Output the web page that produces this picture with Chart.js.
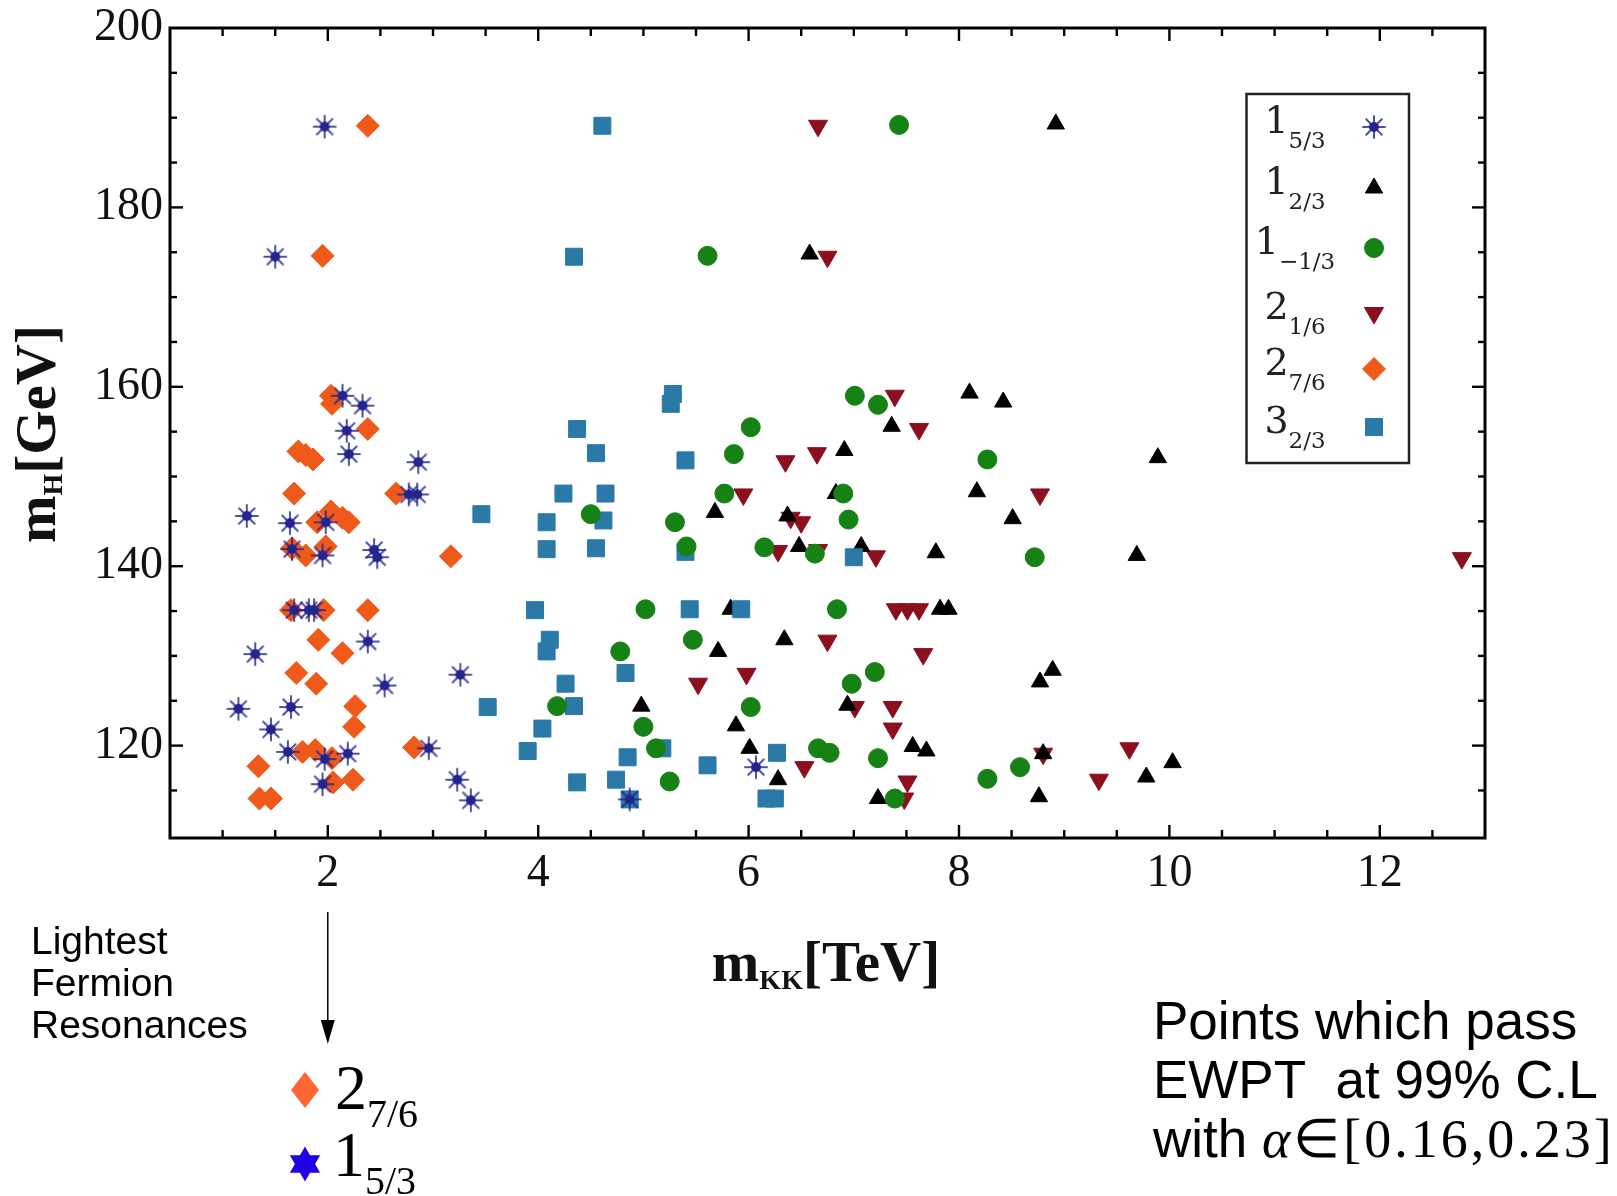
<!DOCTYPE html>
<html lang="en">
<head>
<meta charset="UTF-8">
<title>m_H vs m_KK – lightest fermion resonances</title>
<script src="https://cdn.jsdelivr.net/npm/chart.js"></script>
<style>
html,body{margin:0;padding:0;width:1617px;height:1196px;overflow:hidden;background:#fff;}
.wrap{position:absolute;left:0;top:0;width:1617px;height:1196px;}
.note{position:absolute;color:#000;white-space:nowrap;}
.sans{font-family:"Liberation Sans",Arial,sans-serif;}
.serif{font-family:"Liberation Serif","Times New Roman",serif;}
#lightest{left:31px;top:920px;font-size:39px;line-height:42px;}
#passText{left:1153px;top:991px;font-size:53px;line-height:59px;}
#passText .math{font-family:"Liberation Serif",serif;font-size:54px;letter-spacing:3px;line-height:59px;}
.key{font-size:64px;line-height:64px;}
.key .sub{position:relative;top:18px;font-size:40px;}
#key27{left:335px;top:1056px;}
#key153{left:333px;top:1123px;}
</style>
</head>
<body>
<div class="wrap"><canvas id="plot"></canvas></div>

<div class="note sans" id="lightest">Lightest<br>Fermion<br>Resonances</div>
<div class="note serif key" id="key27">2<span class="sub">7/6</span></div>
<div class="note serif key" id="key153">1<span class="sub">5/3</span></div>
<div class="note sans" id="passText">Points which pass<br>EWPT&nbsp; at 99% C.L<br>with <span class="math"><i>α</i>∈[0.16,0.23]</span></div>

<script>
Chart.defaults.font.family='"Liberation Serif","Times New Roman",serif';
Chart.defaults.animation=false;

/* ── axes ───────────────────────────────────────────── */
const X_TICKS=[2,4,6,8,10,12];
const Y_TICKS=[120,140,160,180,200];
const X_MIN=0.5,X_MAX=13,Y_MIN=109.7,Y_MAX=200;

/* ── data: [m_KK (TeV), m_H (GeV)] ─────────────────── */
const P_1_53=[[1.97,189.0],[1.50,174.5],[2.14,159.0],[2.33,157.9],[2.18,155.1],[2.20,152.5],[2.86,151.6],
  [2.77,148.0],[2.85,148.0],[1.23,145.6],[1.64,144.8],[1.98,144.9],[1.66,141.9],[1.95,141.2],[2.44,141.8],
  [2.47,141.0],[1.68,135.1],[1.82,135.1],[1.87,135.1],[2.38,131.6],[1.31,130.2],[3.26,127.9],[2.54,126.7],
  [1.15,124.1],[1.65,124.3],[1.46,121.8],[1.62,119.3],[1.97,118.5],[2.19,119.1],[2.96,119.7],[1.95,115.7],
  [3.23,116.2],[3.36,113.9],[6.07,117.6],[4.87,114.0]];
const P_1_23=[[8.92,189.3],[6.58,174.8],[8.10,159.3],[8.42,158.3],[7.36,155.6],[6.91,152.9],[9.89,152.1],
  [8.17,148.3],[6.83,148.1],[5.68,146.0],[6.37,145.6],[8.51,145.3],[6.48,142.2],[7.07,142.2],[7.78,141.5],
  [9.69,141.2],[5.83,135.2],[7.82,135.2],[7.90,135.2],[6.34,131.8],[5.71,130.5],[8.89,128.4],[8.77,127.1],
  [4.98,124.4],[6.94,124.5],[5.88,122.2],[6.01,119.7],[7.56,119.9],[7.69,119.4],[8.80,119.1],[6.28,116.2],
  [7.23,114.1],[8.76,114.3],[9.78,116.5],[10.03,118.1]];
const P_1_M13=[[7.43,189.2],[5.61,174.6],[7.01,159.0],[7.23,158.0],[6.02,155.5],[5.86,152.5],[8.27,151.9],
  [5.77,148.1],[6.90,148.1],[4.50,145.8],[5.30,144.9],[6.95,145.2],[5.41,142.2],[6.15,142.1],[6.63,141.4],
  [8.72,141.0],[5.02,135.2],[6.84,135.2],[5.47,131.8],[4.78,130.5],[7.20,128.2],[6.98,126.9],[4.18,124.4],
  [6.02,124.3],[5.00,122.1],[5.12,119.7],[6.66,119.7],[6.77,119.2],[7.23,118.6],[5.25,116.0],[7.39,114.1],
  [8.27,116.3],[8.58,117.6]];
const P_2_16=[[6.66,189.1],[6.75,174.5],[7.39,159.0],[7.62,155.3],[6.35,151.7],[6.65,152.6],[5.95,148.0],
  [8.77,148.0],[6.40,145.4],[6.50,144.9],[6.28,141.7],[6.66,141.8],[7.21,141.1],[12.78,140.9],[7.40,135.2],
  [7.51,135.2],[7.62,135.2],[6.75,131.7],[7.66,130.2],[5.98,128.0],[5.52,126.9],[7.01,124.3],[7.37,124.3],
  [7.37,121.9],[6.53,117.6],[7.51,116.0],[7.48,114.1],[8.80,119.1],[9.62,119.7],[9.33,116.2]];
const P_2_76=[[2.38,189.1],[1.95,174.6],[2.03,159.0],[2.04,158.1],[2.38,155.3],[1.72,152.8],[1.79,152.4],
  [1.86,151.9],[1.68,148.1],[2.65,148.1],[1.90,144.9],[2.03,146.1],[2.14,145.4],[2.20,144.9],[1.66,142.0],
  [1.79,141.2],[1.98,142.2],[3.17,141.1],[1.65,135.1],[1.96,135.1],[2.38,135.1],[1.91,131.8],[2.14,130.3],
  [1.70,128.1],[1.89,126.9],[2.26,124.4],[2.25,122.1],[1.76,119.3],[1.88,119.5],[2.04,118.6],[2.82,119.8],
  [1.34,117.7],[2.05,115.9],[2.24,116.2],[1.35,114.1],[1.46,114.1]];
const P_3_23=[[4.61,189.1],[4.34,174.5],[5.28,159.2],[5.26,158.1],[4.37,155.3],[4.55,152.6],[5.40,151.8],
  [4.24,148.1],[4.64,148.1],[3.46,145.8],[4.08,144.9],[4.62,145.1],[4.08,141.9],[4.55,142.0],[5.40,141.6],
  [7.00,141.0],[3.97,135.1],[5.44,135.2],[5.93,135.2],[4.11,131.8],[4.08,130.5],[4.83,128.1],[4.26,126.9],
  [3.52,124.3],[4.34,124.4],[4.04,121.9],[3.90,119.4],[5.18,119.7],[4.85,118.7],[5.61,117.8],[6.27,119.2],
  [4.37,115.9],[4.74,116.2],[4.87,114.0],[6.17,114.1],[6.25,114.1]];

/* legend text: main number + subscript */
const LEG_MAIN=['1','1','1','2','2','3'];
const LEG_SUB=['5/3','2/3','\u22121/3','1/6','7/6','2/3'];
const LEG_Y=[127,188,248,313,369,427];

/* ── marker helpers ─────────────────────────────────── */
function starImg(col){
  const c=document.createElement('canvas');c.width=c.height=26;
  const g=c.getContext('2d');
  g.strokeStyle=col;g.globalAlpha=0.8;g.lineWidth=2;g.lineCap='round';
  for(let i=0;i<8;i++){
    const a=i*Math.PI/4;
    g.beginPath();g.moveTo(13,13);g.lineTo(13+11*Math.cos(a),13+11*Math.sin(a));g.stroke();
  }
  g.globalAlpha=1;g.fillStyle=col;
  g.beginPath();g.arc(13,13,5,0,2*Math.PI);g.fill();
  return c;
}
const mk=(pts,style,r,col,order,rot)=>({
  data:pts.map(p=>({x:p[0],y:p[1]})),
  pointStyle:style,pointRadius:r,pointRotation:rot||0,
  backgroundColor:col,borderColor:col,pointBorderWidth:1,order
});

const datasets=[
  mk(P_1_53,starImg('#24248f'),11,'#24248f',1),
  mk(P_1_23,'triangle',10,'#000000',5),
  mk(P_1_M13,'circle',9.5,'#168216',2),
  mk(P_2_16,'triangle',11,'#8c0f1e',6,180),
  mk(P_2_76,'rectRot',11.5,'#ef5a1a',4),
  mk(P_3_23,'rect',12,'#2a79a6',3)
];

/* ── decorations: frame, inward ticks, titles, legend, arrow ── */
function rich(ctx,parts,cx,base){
  let tot=0;
  parts.forEach(p=>{ctx.font=p[1];p.w=ctx.measureText(p[0]).width;tot+=p.w;});
  let x0=cx-tot/2;
  parts.forEach(p=>{ctx.font=p[1];ctx.fillText(p[0],x0,base+p[2]);x0+=p.w;});
}
const seg=(ctx,x1,y1,x2,y2)=>{ctx.beginPath();ctx.moveTo(x1,y1);ctx.lineTo(x2,y2);ctx.stroke();};

const decor={
  id:'decor',
  afterDraw(ch){
    const {ctx,chartArea:a,scales:{x,y}}=ch;
    ctx.save();
    ctx.strokeStyle='#000';ctx.lineWidth=3;
    ctx.strokeRect(a.left,a.top,a.right-a.left,a.bottom-a.top);

    ctx.lineWidth=2.4;
    for(let v=1;v<X_MAX;v+=0.5){
      const px=x.getPixelForValue(v),L=X_TICKS.includes(v)?13:8;
      seg(ctx,px,a.bottom,px,a.bottom-L);seg(ctx,px,a.top,px,a.top+L);
    }
    for(let v=115;v<Y_MAX;v+=5){
      const py=y.getPixelForValue(v),L=v%20===0?13:7;
      seg(ctx,a.left,py,a.left+L,py);seg(ctx,a.right,py,a.right-L,py);
    }

    /* axis titles */
    ctx.fillStyle='#111';ctx.textAlign='left';ctx.textBaseline='alphabetic';
    const big='bold 57px "Liberation Serif"',small='bold 28px "Liberation Serif"';
    rich(ctx,[['m',big,0],['KK',small,8],['[TeV]',big,0]],826,981);
    ctx.save();ctx.translate(55,434);ctx.rotate(-Math.PI/2);
    rich(ctx,[['m',big,0],['H',small,7],['[GeV]',big,0]],0,0);
    ctx.restore();

    /* legend */
    const bx=1246.5,by=94,bw=162.5,bh=369;
    ctx.fillStyle='#fff';ctx.fillRect(bx,by,bw,bh);
    ctx.strokeStyle='#222';ctx.lineWidth=2.5;ctx.strokeRect(bx,by,bw,bh);
    ch.data.datasets.forEach((ds,i)=>{
      const yy=LEG_Y[i];
      ctx.font='38px "DejaVu Serif"';const w1=ctx.measureText(LEG_MAIN[i]).width;
      ctx.font='23px "DejaVu Serif"';const w2=ctx.measureText(LEG_SUB[i]).width;
      const x0=1295-(w1+w2)/2;
      ctx.fillStyle='#222';
      ctx.font='38px "DejaVu Serif"';ctx.fillText(LEG_MAIN[i],x0,yy+6);
      ctx.font='23px "DejaVu Serif"';ctx.fillText(LEG_SUB[i],x0+w1,yy+21);
      ctx.fillStyle=ds.backgroundColor;ctx.strokeStyle=ds.borderColor;ctx.lineWidth=1;
      Chart.helpers.drawPoint(ctx,{pointStyle:ds.pointStyle,radius:ds.pointRadius,
        rotation:ds.pointRotation,borderWidth:1},1374,yy);
    });

    /* arrow from the x = 2 tick down to the key */
    const ax=x.getPixelForValue(2);
    ctx.strokeStyle='#000';ctx.fillStyle='#000';ctx.lineWidth=1.5;
    seg(ctx,ax,912,ax,1025);
    ctx.beginPath();ctx.moveTo(ax-7,1020);ctx.lineTo(ax+7,1020);ctx.lineTo(ax,1044);ctx.closePath();ctx.fill();

    /* key symbols */
    ctx.fillStyle='#ff6633';
    ctx.beginPath();ctx.moveTo(305,1072);ctx.lineTo(319,1090);ctx.lineTo(305,1108);ctx.lineTo(291,1090);ctx.closePath();ctx.fill();
    ctx.fillStyle='#2200e6';
    const sx=305,sy=1164,R=17.5;
    [[-90,30,150],[90,210,330]].forEach(t=>{
      ctx.beginPath();
      t.forEach((d,k)=>{const r=d*Math.PI/180;k?ctx.lineTo(sx+R*Math.cos(r),sy+R*Math.sin(r)):ctx.moveTo(sx+R*Math.cos(r),sy+R*Math.sin(r));});
      ctx.closePath();ctx.fill();
    });
    ctx.restore();
  }
};

new Chart(document.getElementById('plot'),{
  type:'scatter',
  data:{datasets},
  options:{
    responsive:true,maintainAspectRatio:false,devicePixelRatio:1,
    events:[],
    layout:{padding:{left:0,top:28,right:132,bottom:278}},
    plugins:{legend:{display:false},tooltip:{enabled:false}},
    scales:{
      x:{type:'linear',min:X_MIN,max:X_MAX,
         grid:{display:false,drawTicks:false},border:{display:false},
         afterBuildTicks:s=>{s.ticks=X_TICKS.map(v=>({value:v}));},
         afterFit:s=>{s.height=80;s.paddingLeft=0;s.paddingRight=0;},
         ticks:{padding:8,color:'#111',font:{size:46},maxRotation:0}},
      y:{type:'linear',min:Y_MIN,max:Y_MAX,
         grid:{display:false,drawTicks:false},border:{display:false},
         afterBuildTicks:s=>{s.ticks=Y_TICKS.map(v=>({value:v}));},
         afterFit:s=>{s.width=170;s.paddingTop=0;s.paddingBottom=0;},
         ticks:{padding:7,color:'#111',font:{size:46}}}
    }
  },
  plugins:[decor]
});
</script>
</body>
</html>
